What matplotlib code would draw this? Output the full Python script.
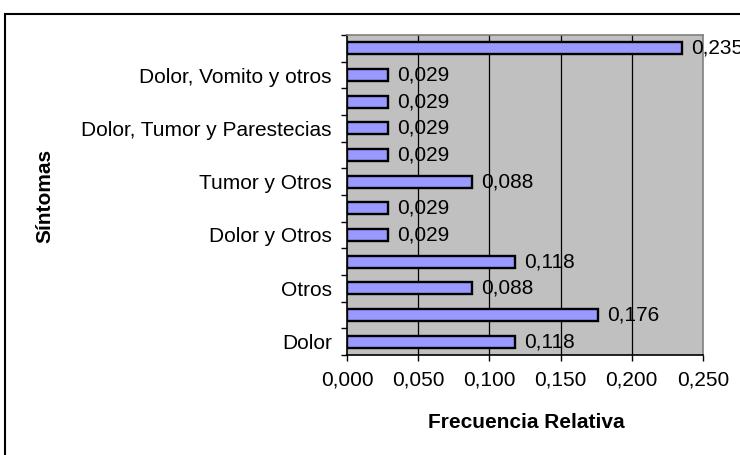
import matplotlib
matplotlib.use("Agg")
import matplotlib.pyplot as plt
from matplotlib.patches import Rectangle

plt.rcParams['font.family'] = ['Liberation Sans', 'DejaVu Sans']

# Data (bottom to top); unlabeled categories are hidden in the original
categories = ["Dolor", "", "Otros", "", "Dolor y Otros", "", "Tumor y Otros", "",
              "Dolor, Tumor y Parestecias", "", "Dolor, Vomito y otros", ""]
values = [0.118, 0.176, 0.088, 0.118, 0.029, 0.029, 0.088, 0.029, 0.029, 0.029, 0.029, 0.235]
xticks = [0.0, 0.05, 0.10, 0.15, 0.20, 0.25]
xlabel = "Frecuencia Relativa"
ylabel = "Síntomas"

FS = 15

fig = plt.figure(figsize=(7.4, 4.55), dpi=100)
ax = fig.add_axes([347/740, 1-355/455, 356/740, 320/455])
ax.set_facecolor('#C0C0C0')

n = len(values)
pos = list(range(n))
ax.barh(pos, values, height=0.45, color='#9999FF', edgecolor='black', linewidth=1.7, zorder=3)

ax.set_xlim(0, 0.25)
ax.set_ylim(-0.5, n - 0.5)

for p, v in zip(pos, values):
    ax.text(v + 0.0065, p, f"{v:.3f}".replace('.', ','), va='center', ha='left',
            fontsize=FS, zorder=4, clip_on=False)

# gridlines
for t in xticks[1:-1]:
    ax.axvline(t, color='black', linewidth=0.9, zorder=1)

ax.set_xticks(xticks)
ax.set_xticklabels([f"{t:.3f}".replace('.', ',') for t in xticks], fontsize=FS)
ax.tick_params(axis='x', direction='out', length=4.5, width=1, pad=7, color='black')

# y: ticks at boundaries, labels at centers
ax.set_yticks([i - 0.5 for i in range(n + 1)])
ax.set_yticklabels([])
ax.set_yticks(pos, minor=True)
ax.set_yticklabels(categories, minor=True, fontsize=FS)
ax.tick_params(axis='y', which='major', direction='out', length=4.5, width=1)
ax.tick_params(axis='y', which='minor', length=0, pad=11)

for s in ['top', 'right']:
    ax.spines[s].set_color('#808080')
    ax.spines[s].set_linewidth(1.2)
for s in ['left', 'bottom']:
    ax.spines[s].set_color('black')
    ax.spines[s].set_linewidth(1.2)

fig.text(526/740, 1-423/455, xlabel, ha='center', va='center',
         fontsize=FS, fontweight='bold')
fig.text(45/740, 1-196/455, ylabel, rotation=90, ha='center', va='center',
         fontsize=FS, fontweight='bold')

# outer chart frame (extends beyond figure)
fig.patches.append(Rectangle((5/740, -0.2), 1.2, 1-14/455 + 0.2, transform=fig.transFigure,
                             fill=False, edgecolor='black', linewidth=1.5, clip_on=False))

fig.savefig("out.png", dpi=100)
